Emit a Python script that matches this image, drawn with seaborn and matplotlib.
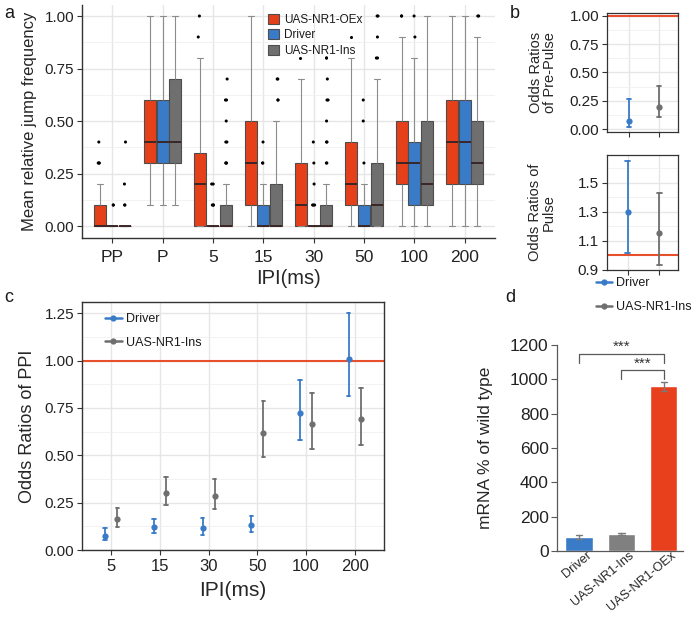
import numpy as np
import pandas as pd
import matplotlib
matplotlib.use("Agg")
import matplotlib.pyplot as plt
import matplotlib.transforms as mtransforms
from matplotlib.lines import Line2D
from matplotlib.ticker import MultipleLocator, FormatStrFormatter
import seaborn as sns

# --- panel a: box summaries ---
ipi_a = ["PP", "P", "5", "15", "30", "50", "100", "200"]
genos_a = ["UAS-NR1-OEx", "Driver", "UAS-NR1-Ins"]
# whisker low, Q1, median, Q3, whisker high
oex_box = [(0, 0, 0, 0.1, 0.2), (0.1, 0.3, 0.4, 0.6, 1.0), (0, 0, 0.2, 0.35, 0.8),
           (0, 0.1, 0.3, 0.5, 1.0), (0, 0, 0.1, 0.3, 0.7), (0, 0.1, 0.2, 0.4, 0.8),
           (0, 0.2, 0.3, 0.5, 0.9), (0, 0.2, 0.4, 0.6, 1.0)]
driver_box = [(0, 0, 0, 0, 0), (0.1, 0.3, 0.4, 0.6, 1.0), (0, 0, 0, 0, 0),
              (0, 0, 0, 0.1, 0.2), (0, 0, 0, 0, 0), (0, 0, 0, 0.1, 0.2),
              (0, 0.1, 0.3, 0.4, 0.8), (0, 0.2, 0.4, 0.6, 1.0)]
ins_box = [(0, 0, 0, 0, 0), (0.1, 0.3, 0.4, 0.7, 1.0), (0, 0, 0, 0.1, 0.2),
           (0, 0, 0, 0.2, 0.5), (0, 0, 0, 0.1, 0.2), (0, 0, 0.1, 0.3, 0.7),
           (0, 0.1, 0.2, 0.5, 1.0), (0, 0.2, 0.3, 0.5, 0.9)]
oex_out = [[0.3, 0.3, 0.3, 0.4], [], [0.9, 1.0], [], [0.8], [0.9], [1.0, 1.0], []]
driver_out = [[0.1, 0.1], [], [0.1, 0.1, 0.1, 0.2, 0.2], [0.3, 0.3, 0.4],
              [0.1, 0.1, 0.1, 0.2, 0.3, 0.4], [0.3, 0.5, 0.6], [0.9, 1.0], []]
ins_out = [[0.1, 0.1, 0.2, 0.4], [], [0.3, 0.3, 0.3, 0.4, 0.4, 0.5, 0.6, 0.6, 0.7],
           [0.6, 0.6, 0.7, 0.7], [0.3, 0.3, 0.4, 0.4, 0.5, 0.6, 0.6, 0.7, 0.8, 0.8],
           [0.8, 0.8, 0.9, 1.0, 1.0], [], [1.0, 1.0]]

# --- panel b: odds ratios (estimate, low, high) ---
genos_b = ["Driver", "UAS-NR1-Ins"]
prepulse_or = [0.076, 0.194]
prepulse_lo = [0.023, 0.106]
prepulse_hi = [0.267, 0.381]
pulse_or = [1.295, 1.155]
pulse_lo = [1.018, 0.934]
pulse_hi = [1.648, 1.427]

# --- panel c: odds ratios of PPI ---
ipi_c = ["5", "15", "30", "50", "100", "200"]
driver_or = [0.076, 0.120, 0.114, 0.130, 0.722, 1.009]
driver_lo = [0.053, 0.092, 0.079, 0.097, 0.581, 0.815]
driver_hi = [0.114, 0.162, 0.167, 0.181, 0.898, 1.250]
ins_or = [0.164, 0.303, 0.287, 0.620, 0.664, 0.690]
ins_lo = [0.123, 0.238, 0.218, 0.489, 0.532, 0.555]
ins_hi = [0.220, 0.384, 0.377, 0.789, 0.831, 0.857]
ref_level = 1.0

# --- panel d: mRNA levels ---
genos_d = ["Driver", "UAS-NR1-Ins", "UAS-NR1-OEx"]
mrna = [82, 101, 960]
mrna_lo = [72, 96, 931]
mrna_hi = [96, 107, 985]
brackets = [(0, 2, 1150), (1, 2, 1052)]

RED, BLUE, GRAY = "#E5401A", "#3A7BC8", "#6F6F6F"
LINE_RED = "#E8502D"
GRID = "#E6E6E6"
DARK = "#333333"

sns.set_theme(style="ticks")
plt.rcParams["font.family"] = ["Liberation Sans", "DejaVu Sans"]
plt.rcParams["text.color"] = "#1a1a1a"


def span(v):
    return (v.min(), v.max())


def tidy(groups, cats, series_list, col):
    rows = []
    for g, series in zip(groups, series_list):
        for c, vals in zip(cats, series):
            for v in vals:
                rows.append((c, g, v))
    return pd.DataFrame(rows, columns=["cat", "geno", col])


def style_ticks(ax, size):
    ax.tick_params(length=3.5, width=0.8, color=DARK, pad=2, labelsize=size,
                   labelcolor="#222222")
    ax.tick_params(which="minor", length=0)


def ggrid(ax):
    ax.set_axisbelow(True)
    ax.grid(True, which="major", color=GRID, lw=1.0)
    ax.yaxis.grid(True, which="minor", color="#F0F0F0", lw=0.6)


W, H = 700, 619
fig = plt.figure(figsize=(7, 6.19), dpi=100)

# ---------------- panel a ----------------
ax_a = fig.add_axes([82 / W, 1 - 238 / H, 413 / W, 232.5 / H])
box_df = tidy(genos_a, ipi_a, [oex_box, driver_box, ins_box], "freq")
out_df = tidy(genos_a, ipi_a, [oex_out, driver_out, ins_out], "freq")
sns.boxplot(data=box_df, x="cat", y="freq", hue="geno", order=ipi_a,
            hue_order=genos_a, palette=[RED, BLUE, GRAY], whis=(0, 100),
            width=0.75, gap=0.05, showfliers=False, linecolor="#4d4d4d",
            linewidth=0.8, saturation=1,
            whiskerprops={"color": "#8c8c8c"}, capprops={"color": "#8c8c8c"},
            medianprops={"color": "#3a2626", "linewidth": 1.4}, ax=ax_a)
np.random.seed(3)
sns.stripplot(data=out_df, x="cat", y="freq", hue="geno", order=ipi_a,
              hue_order=genos_a, palette=["black"] * 3, dodge=True, jitter=0.08,
              size=2.2, legend=False, ax=ax_a)
ax_a.set_xlim(-0.6, 7.6)
ax_a.set_ylim(-0.057, 1.05)
ax_a.yaxis.set_major_locator(MultipleLocator(0.25))
ax_a.yaxis.set_minor_locator(MultipleLocator(0.125))
ax_a.yaxis.set_major_formatter(FormatStrFormatter("%.2f"))
ggrid(ax_a)
for s in ["top", "right"]:
    ax_a.spines[s].set_visible(False)
for s in ["left", "bottom"]:
    ax_a.spines[s].set_color(DARK)
    ax_a.spines[s].set_linewidth(1.0)
style_ticks(ax_a, 11)
ax_a.tick_params(axis="x", labelsize=12.5, pad=5)
ax_a.set_xlabel("IPI(ms)", fontsize=14.5, labelpad=3)
ax_a.set_ylabel("Mean relative jump frequency", fontsize=12, va="center")
ax_a.yaxis.set_label_coords(-0.126, 0.5)
sns.move_legend(ax_a, loc="upper left", bbox_to_anchor=(0.425, 1.01), title=None,
                frameon=False, fontsize=8.5, handlelength=0.9, handleheight=0.9,
                labelspacing=0.3, handletextpad=0.45)

# ---------------- panel b ----------------
pal_b = [BLUE, GRAY]
pt_kw = dict(estimator="median", errorbar=span, markers="o", markersize=4.5,
             markeredgewidth=0, linestyle="none", capsize=0.16,
             err_kws={"linewidth": 1.3}, legend=False)

ax_b1 = fig.add_axes([606.7 / W, 1 - 131.7 / H, 71.3 / W, 119 / H])
pre_df = tidy(genos_b, ["pre"] * 2,
              [[(l, m, h)] for l, m, h in zip(prepulse_lo, prepulse_or, prepulse_hi)],
              "or")
sns.pointplot(data=pre_df, x="geno", y="or", hue="geno", order=genos_b,
              hue_order=genos_b, palette=pal_b, ax=ax_b1, **pt_kw)
ax_b1.axhline(ref_level, color=LINE_RED, lw=1.5, zorder=1)
ax_b1.set_xlim(-0.74, 1.63)
ax_b1.set_ylim(-0.021, 1.026)
ax_b1.yaxis.set_major_locator(MultipleLocator(0.25))
ax_b1.yaxis.set_minor_locator(MultipleLocator(0.125))
ax_b1.yaxis.set_major_formatter(FormatStrFormatter("%.2f"))

ax_b2 = fig.add_axes([606.5 / W, 1 - 270 / H, 71.5 / W, 115 / H])
pulse_df = tidy(genos_b, ["pulse"] * 2,
                [[(l, m, h)] for l, m, h in zip(pulse_lo, pulse_or, pulse_hi)],
                "or")
sns.pointplot(data=pulse_df, x="geno", y="or", hue="geno", order=genos_b,
              hue_order=genos_b, palette=pal_b, ax=ax_b2, **pt_kw)
ax_b2.axhline(ref_level, color=LINE_RED, lw=1.5, zorder=1)
ax_b2.set_xlim(-0.68, 1.6)
ax_b2.set_ylim(0.9, 1.69)
ax_b2.set_yticks([0.9, 1.1, 1.3, 1.5])
ax_b2.set_yticks([1.0, 1.2, 1.4, 1.6], minor=True)
ax_b2.yaxis.set_major_formatter(FormatStrFormatter("%.1f"))

for ax, lab in [(ax_b1, "Odds Ratios\nof Pre-Pulse"), (ax_b2, "Odds Ratios of\nPulse")]:
    ggrid(ax)
    for s in ax.spines.values():
        s.set_color(DARK)
        s.set_linewidth(0.9)
    style_ticks(ax, 11)
    ax.set_xticklabels([])
    ax.set_xlabel("")
    ax.set_ylabel(lab, fontsize=10.5, va="center", linespacing=1.0)
    ax.yaxis.set_label_coords(-0.9, 0.5)

leg_handles = [Line2D([], [], color=c, marker="o", markersize=4.5, markeredgewidth=0,
                      lw=1.8) for c in pal_b]
ax_b2.legend(leg_handles, genos_b, loc="upper left", bbox_to_anchor=(-0.22, -0.02),
             frameon=False, fontsize=9, handlelength=1.3, handletextpad=0.35,
             labelspacing=0.95, borderaxespad=0)

# ---------------- panel c ----------------
ax_c = fig.add_axes([82 / W, 1 - 550 / H, 302 / W, 248.3 / H])
c_df = tidy(["Driver", "UAS-NR1-Ins"], ipi_c,
            [list(zip(driver_lo, driver_or, driver_hi)),
             list(zip(ins_lo, ins_or, ins_hi))], "or")
sns.pointplot(data=c_df, x="cat", y="or", hue="geno", order=ipi_c,
              hue_order=genos_b, palette=pal_b, dodge=0.25, estimator="median",
              errorbar=span, markers="o", markersize=4.5, markeredgewidth=0,
              linestyle="none", capsize=0.07, err_kws={"linewidth": 1.3},
              legend=False, ax=ax_c)
ax_c.axhline(ref_level, color=LINE_RED, lw=1.5, zorder=1)
ax_c.set_xlim(-0.6, 5.6)
ax_c.set_ylim(0, 1.311)
ax_c.yaxis.set_major_locator(MultipleLocator(0.25))
ax_c.yaxis.set_minor_locator(MultipleLocator(0.125))
ax_c.yaxis.set_major_formatter(FormatStrFormatter("%.2f"))
ggrid(ax_c)
for s in ax_c.spines.values():
    s.set_color(DARK)
    s.set_linewidth(1.0)
style_ticks(ax_c, 11)
ax_c.tick_params(axis="x", labelsize=12, pad=3)
ax_c.set_xlabel("IPI(ms)", fontsize=15, labelpad=5)
ax_c.set_ylabel("Odds Ratios of PPI", fontsize=13, va="center")
ax_c.yaxis.set_label_coords(-0.18, 0.5)
ax_c.legend(leg_handles, genos_b, loc="upper left", bbox_to_anchor=(0.04, 1.0),
            frameon=False, fontsize=9, handlelength=1.3, handletextpad=0.35,
            labelspacing=0.95)

# ---------------- panel d ----------------
ax_d = fig.add_axes([557 / W, 1 - 551 / H, 126 / W, 206 / H])
d_df = tidy(genos_d, ["mrna"] * 3,
            [[(l, m, h)] for l, m, h in zip(mrna_lo, mrna, mrna_hi)], "level")
sns.barplot(data=d_df, x="geno", y="level", hue="geno", order=genos_d,
            hue_order=genos_d, palette=[BLUE, "#808080", "#E8401C"],
            estimator="median", errorbar=span, width=0.64, saturation=1,
            capsize=0.15, err_kws={"color": "#7a7a7a", "linewidth": 1.0},
            legend=False, ax=ax_d)
ax_d.set_xlim(-0.52, 2.45)
ax_d.set_ylim(0, 1200)
ax_d.yaxis.set_major_locator(MultipleLocator(200))
for s in ["top", "right"]:
    ax_d.spines[s].set_visible(False)
for s in ["left", "bottom"]:
    ax_d.spines[s].set_color("#595959")
    ax_d.spines[s].set_linewidth(0.9)
ax_d.tick_params(axis="y", length=4, width=0.8, color="#595959", pad=2,
                 labelsize=12.5, labelcolor="#222222")
ax_d.tick_params(axis="x", length=0, pad=1)
shift = mtransforms.ScaledTranslation(7 / 100, 3 / 100, fig.dpi_scale_trans)
for lab in ax_d.get_xticklabels():
    lab.set_rotation(40)
    lab.set_ha("right")
    lab.set_rotation_mode("anchor")
    lab.set_fontsize(9.2)
    lab.set_transform(lab.get_transform() + shift)
ax_d.set_xlabel("")
ax_d.set_ylabel("mRNA % of wild type", fontsize=12.5, va="center")
ax_d.yaxis.set_label_coords(-0.57, 0.5)
for x0, x1, y in brackets:
    ax_d.plot([x0, x0, x1, x1], [y - 52, y, y, y - 52], color="#595959",
              lw=0.9, clip_on=False)
    ax_d.text((x0 + x1) / 2, y - 2, "***", ha="center", va="bottom",
              fontsize=11, color="#333333")

# panel letters
for letter, (px, py) in {"a": (4, 14), "b": (510, 14), "c": (4, 297), "d": (505, 297)}.items():
    fig.text(px / W, 1 - py / H, letter, fontsize=13, va="center", ha="left")

fig.savefig("out.png", dpi=100)
